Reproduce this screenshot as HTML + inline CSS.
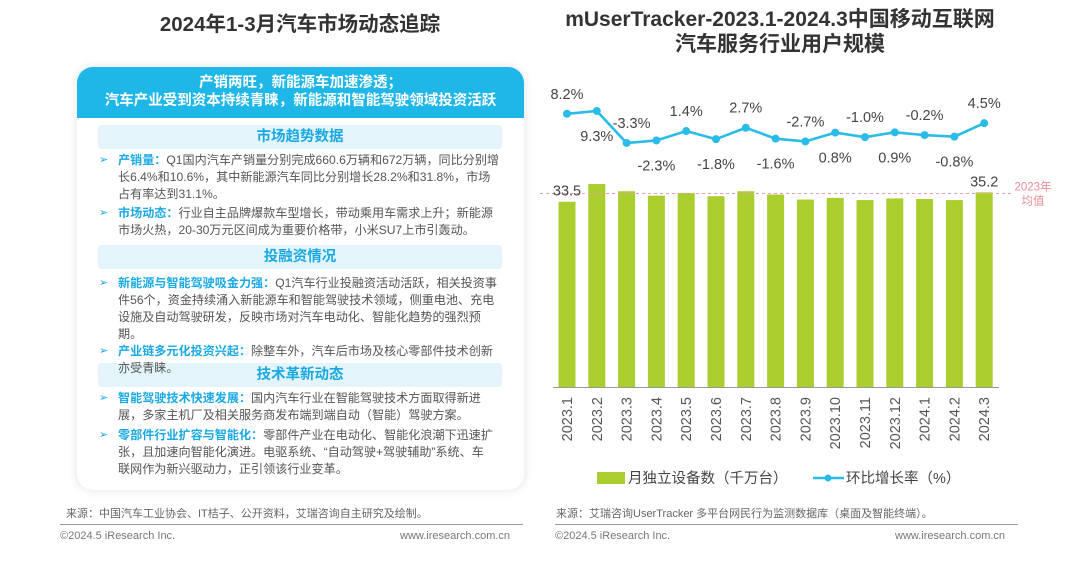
<!DOCTYPE html>
<html><head><meta charset="utf-8"><style>
body{margin:0;width:1080px;height:563px;background:#fff;position:relative;overflow:hidden;font-family:"Liberation Sans","Noto Sans CJK SC",sans-serif;color:#444}
.abs{position:absolute;white-space:nowrap}
.title{font-weight:bold;font-size:20.5px;color:#333;text-align:center}
.card{position:absolute;left:77px;top:67px;width:447px;height:423px;border-radius:16px;background:#fff;box-shadow:0 0 10px rgba(0,0,0,0.12);overflow:hidden}
.hdr{position:absolute;left:0;top:0;width:447px;height:51px;background:#1fb6e8;color:#fff;font-weight:bold;font-size:14.5px;text-align:center;line-height:18px;padding-top:7px;box-sizing:border-box}
.sec{position:absolute;left:21px;width:404px;height:24px;background:#e3f4fb;border-radius:4px;color:#1aa9e3;font-weight:bold;font-size:14.5px;text-align:center;line-height:24px}
.ln{position:absolute;left:118px;font-size:12.1px;color:#555;white-space:nowrap}
.ln b{color:#1aa9e3}
.bul{position:absolute;left:99px;font-size:11px;color:#1aa9e3}
.foot{font-size:11px;color:#666}
.copy{font-size:11px;color:#777}
</style></head><body>
<div class="abs title" style="left:150px;top:7px;width:300px">2024年1-3月汽车市场动态追踪</div>
<div class="abs title" style="left:532px;top:7px;width:496px;line-height:25px;font-size:21px">mUserTracker-2023.1-2024.3中国移动互联网<br>汽车服务行业用户规模</div>

<div class="card">
<div class="hdr">产销两旺，新能源车加速渗透；<br>汽车产业受到资本持续青睐，新能源和智能驾驶领域投资活跃</div>
<div class="sec" style="top:58px">市场趋势数据</div>
<div class="sec" style="top:178px">投融资情况</div>
<div class="sec" style="top:296px">技术革新动态</div>
</div>

<div class="bul" style="top:153px">➢</div>
<div class="ln" style="top:151px"><b>产销量：</b>Q1国内汽车产销量分别完成660.6万辆和672万辆，同比分别增</div>
<div class="ln" style="top:168px">长6.4%和10.6%，其中新能源汽车同比分别增长28.2%和31.8%，市场</div>
<div class="ln" style="top:185px">占有率达到31.1%。</div>
<div class="bul" style="top:206px">➢</div>
<div class="ln" style="top:204px"><b>市场动态：</b>行业自主品牌爆款车型增长，带动乘用车需求上升；新能源</div>
<div class="ln" style="top:221px">市场火热，20-30万元区间成为重要价格带，小米SU7上市引轰动。</div>
<div class="bul" style="top:276px">➢</div>
<div class="ln" style="top:274px"><b>新能源与智能驾驶吸金力强：</b>Q1汽车行业投融资活动活跃，相关投资事</div>
<div class="ln" style="top:291px">件56个，资金持续涌入新能源车和智能驾驶技术领域，侧重电池、充电</div>
<div class="ln" style="top:308px">设施及自动驾驶研发，反映市场对汽车电动化、智能化趋势的强烈预</div>
<div class="ln" style="top:325px">期。</div>
<div class="bul" style="top:344px">➢</div>
<div class="ln" style="top:342px"><b>产业链多元化投资兴起：</b>除整车外，汽车后市场及核心零部件技术创新</div>
<div class="ln" style="top:359px">亦受青睐。</div>
<div class="bul" style="top:391px">➢</div>
<div class="ln" style="top:389px"><b>智能驾驶技术快速发展：</b>国内汽车行业在智能驾驶技术方面取得新进</div>
<div class="ln" style="top:406px">展，多家主机厂及相关服务商发布端到端自动（智能）驾驶方案。</div>
<div class="bul" style="top:428px">➢</div>
<div class="ln" style="top:426px"><b>零部件行业扩容与智能化：</b>零部件产业在电动化、智能化浪潮下迅速扩</div>
<div class="ln" style="top:443px">张，且加速向智能化演进。电驱系统、“自动驾驶+驾驶辅助”系统、车</div>
<div class="ln" style="top:460px">联网作为新兴驱动力，正引领该行业变革。</div>

<div class="abs foot" style="left:66px;top:505px">来源：中国汽车工业协会、IT桔子、公开资料，艾瑞咨询自主研究及绘制。</div>
<div class="abs" style="left:60px;top:524px;width:463px;height:1px;background:#999"></div>
<div class="abs copy" style="left:60px;top:530px">©2024.5 iResearch Inc.</div>
<div class="abs copy" style="left:400px;top:530px">www.iresearch.com.cn</div>

<div class="abs foot" style="left:556px;top:505px">来源：艾瑞咨询UserTracker 多平台网民行为监测数据库（桌面及智能终端）。</div>
<div class="abs" style="left:555px;top:524px;width:463px;height:1px;background:#999"></div>
<div class="abs copy" style="left:555px;top:530px">©2024.5 iResearch Inc.</div>
<div class="abs copy" style="left:895px;top:530px">www.iresearch.com.cn</div>

<svg id="chart" width="1080" height="563" style="position:absolute;left:0;top:0"></svg>
<script>
const categories=["2023.1","2023.2","2023.3","2023.4","2023.5","2023.6","2023.7","2023.8","2023.9","2023.10","2023.11","2023.12","2024.1","2024.2","2024.3"];
const devices=[33.5,36.7,35.4,34.6,35.1,34.5,35.4,34.8,33.9,34.2,33.8,34.1,34.0,33.8,35.2];
const growth=[8.2,9.3,-3.3,-2.3,1.4,-1.8,2.7,-1.6,-2.7,0.8,-1.0,0.9,-0.2,-0.8,4.5];
const growthLabels=["8.2%","9.3%","-3.3%","-2.3%","1.4%","-1.8%","2.7%","-1.6%","-2.7%","0.8%","-1.0%","0.9%","-0.2%","-0.8%","4.5%"];
const barLabelIdx=[0,14];
const avg2023=35.0;
const labelBelow=[false,true,false,true,false,true,false,true,false,true,false,true,false,true,false];
const svg=document.getElementById('chart');
const NS='http://www.w3.org/2000/svg';
const base=387;
const xC=i=>567+i*29.8;
const yB=v=>base-v*5.53;
const yL=v=>134.6-v*2.54;
function mk(t,a){const e=document.createElementNS(NS,t);for(const k in a)e.setAttribute(k,a[k]);svg.appendChild(e);return e;}
devices.forEach((v,i)=>{const r=mk('rect',{x:xC(i)-8.5,y:yB(v),width:17,height:base-yB(v),fill:'#a9ce2e'});

});
const ax=mk('line',{x1:553,x2:999,y1:base+0.5,y2:base+0.5,stroke:'#999','stroke-width':1});


const av=mk('line',{x1:540,x2:1012,y1:yB(avg2023),y2:yB(avg2023),stroke:'#e9a0a8','stroke-dasharray':'3,3','stroke-width':1});


[['2023年',yB(avg2023)-3],['均值',yB(avg2023)+11]].forEach(([t,y])=>{const e=mk('text',{x:1033,y:y,'text-anchor':'middle','font-size':11.5,fill:'#ec8c98'});e.textContent=t;

});
barLabelIdx.forEach(i=>{const e=mk('text',{x:xC(i),y:yB(devices[i])-6,'text-anchor':'middle','font-size':14.5,fill:'#444'});e.textContent=devices[i].toFixed(1);

});
const pl=mk('polyline',{points:growth.map((v,i)=>xC(i)+','+yL(v)).join(' '),fill:'none',stroke:'#2bbbe8','stroke-width':2.6});


growth.forEach((v,i)=>{const c=mk('circle',{cx:xC(i),cy:yL(v),r:4,fill:'#2bbbe8'});


let dx=i==2?5:0;
const t=mk('text',{x:xC(i)+dx,y:labelBelow[i]?yL(v)+30:yL(v)-15,'text-anchor':'middle','font-size':14.5,fill:'#444'});t.textContent=growthLabels[i];

});
categories.forEach((c,i)=>{const t=mk('text',{x:0,y:0,'text-anchor':'end','font-size':14.5,fill:'#555',transform:`translate(${xC(i)+5},397) rotate(-90)`});t.textContent=c;

});
const lr=mk('rect',{x:597,y:472,width:28,height:12,fill:'#a9ce2e'});


const lt1=mk('text',{x:628,y:483,'font-size':14.5,fill:'#444'});lt1.textContent='月独立设备数（千万台）';


const ll=mk('line',{x1:813,x2:844,y1:478,y2:478,stroke:'#2bbbe8','stroke-width':2.6});


mk('circle',{cx:828,cy:478,r:3.5,fill:'#2bbbe8'});
const lt2=mk('text',{x:846,y:483,'font-size':14.5,fill:'#444'});lt2.textContent='环比增长率（%）';


</script>
</body></html>
